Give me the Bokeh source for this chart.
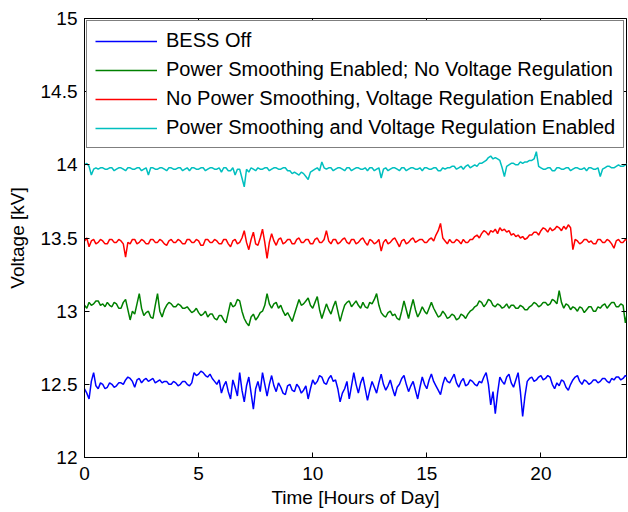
from bokeh.plotting import figure
from bokeh.models import Range1d, Legend, LegendItem, LinearAxis, FixedTicker
from bokeh.embed import file_html
from bokeh.resources import INLINE

# Sampling grid (hours of day, every 0.1 h)
hours = [round(0.1 * i, 1) for i in range(240)]

bess_off = [
    12.47, 12.44, 12.40, 12.52, 12.58, 12.49, 12.47, 12.51, 12.50, 12.47, 12.48, 12.51, 12.50, 12.48, 12.49, 12.51, 12.51, 12.50, 12.53, 12.55,
    12.54, 12.52, 12.48, 12.53, 12.54, 12.51, 12.53, 12.54, 12.52, 12.53, 12.54, 12.51, 12.52, 12.53, 12.51, 12.52, 12.52, 12.50, 12.50, 12.52,
    12.51, 12.49, 12.50, 12.52, 12.52, 12.50, 12.49, 12.51, 12.58, 12.56, 12.57, 12.59, 12.58, 12.56, 12.55, 12.57, 12.54, 12.52, 12.50, 12.53,
    12.44, 12.49, 12.52, 12.45, 12.40, 12.53, 12.48, 12.42, 12.58, 12.46, 12.38, 12.49, 12.55, 12.44, 12.33, 12.47, 12.52, 12.45, 12.58, 12.50,
    12.42, 12.50, 12.56, 12.49, 12.45, 12.51, 12.48, 12.44, 12.43, 12.49, 12.50, 12.46, 12.45, 12.50, 12.48, 12.44, 12.46, 12.49, 12.40, 12.47,
    12.53, 12.50, 12.52, 12.56, 12.55, 12.51, 12.50, 12.54, 12.56, 12.52, 12.53, 12.47, 12.38, 12.44, 12.47, 12.52, 12.40, 12.49, 12.58, 12.50,
    12.44, 12.51, 12.55, 12.47, 12.39, 12.46, 12.52, 12.48, 12.44, 12.51, 12.57, 12.50, 12.46, 12.49, 12.53, 12.47, 12.42, 12.48, 12.50, 12.54,
    12.56, 12.50, 12.45, 12.49, 12.52, 12.46, 12.40, 12.48, 12.55, 12.50, 12.47, 12.53, 12.57, 12.52, 12.49, 12.46, 12.43, 12.50, 12.55, 12.52,
    12.51, 12.54, 12.57, 12.51, 12.48, 12.52, 12.54, 12.49, 12.50, 12.53, 12.52, 12.50, 12.49, 12.52, 12.51, 12.55, 12.58, 12.50, 12.36, 12.45,
    12.30, 12.44, 12.55, 12.52, 12.50, 12.55, 12.57, 12.51, 12.48, 12.53, 12.58, 12.45, 12.28, 12.42, 12.52, 12.54, 12.55, 12.52, 12.53, 12.55,
    12.56, 12.53, 12.54, 12.56, 12.55, 12.50, 12.47, 12.51, 12.49, 12.53, 12.52, 12.48, 12.46, 12.50, 12.53, 12.55, 12.56, 12.52, 12.50, 12.53,
    12.52, 12.50, 12.51, 12.53, 12.53, 12.51, 12.52, 12.54, 12.54, 12.52, 12.51, 12.54, 12.53, 12.55, 12.55, 12.53, 12.54, 12.56, 12.55, 12.54,
]

smoothing_only = [
    13.04, 13.02, 13.06, 13.04, 13.05, 13.07, 13.07, 13.04, 13.05, 13.03, 13.06, 13.04, 13.03, 13.06, 13.05, 13.02, 13.02, 13.06, 13.08, 13.01,
    12.94, 13.00, 12.98, 13.05, 13.12, 13.02, 12.97, 12.99, 13.00, 12.96, 12.95, 13.04, 13.12, 13.00, 12.96, 13.01, 13.04, 13.06, 13.05, 13.03,
    13.03, 13.05, 13.04, 13.02, 13.02, 13.03, 13.01, 12.99, 13.00, 13.02, 12.99, 12.97, 12.98, 13.00, 12.96, 12.98, 12.98, 12.95, 12.94, 12.97,
    12.97, 12.94, 12.92, 12.99, 13.06, 13.03, 13.04, 13.08, 13.07, 13.00, 12.95, 12.92, 12.90, 12.96, 12.98, 12.94, 12.96, 12.99, 13.00, 13.04,
    13.12, 13.05, 13.02, 13.05, 13.06, 13.02, 13.04, 13.00, 12.97, 12.99, 12.96, 12.93, 12.98, 13.03, 13.08, 13.04, 13.05, 13.07, 13.09, 13.04,
    13.02, 13.06, 13.10, 13.01, 12.95, 13.00, 13.05, 13.01, 12.98, 13.03, 13.07, 13.00, 12.93, 12.99, 13.04, 13.06, 13.07, 13.03, 13.05, 13.07,
    13.04, 13.02, 13.06, 13.03, 13.02, 13.06, 13.05, 13.08, 13.12, 13.04, 12.99, 12.97, 12.96, 12.99, 13.00, 12.97, 12.98, 12.95, 12.94, 13.00,
    13.07, 13.01, 12.95, 13.02, 13.08, 13.01, 12.96, 12.99, 13.03, 13.00, 12.98, 13.02, 13.06, 13.02, 12.99, 12.96, 12.97, 13.00, 12.98, 12.95,
    12.96, 12.98, 12.97, 12.94, 12.95, 12.98, 12.97, 12.95, 12.98, 13.00, 13.01, 13.03, 13.04, 13.07, 13.06, 13.03, 13.05, 13.08, 13.07, 13.04,
    13.03, 13.05, 13.04, 13.02, 13.03, 13.05, 13.02, 13.04, 13.04, 13.02, 13.02, 13.04, 13.03, 13.01, 13.01, 13.03, 13.04, 13.06, 13.05, 13.03,
    13.04, 13.06, 13.06, 13.04, 13.05, 13.08, 13.07, 13.05, 13.14, 13.06, 13.02, 13.05, 13.04, 13.01, 13.03, 13.02, 13.00, 13.03, 13.02, 12.99,
    13.01, 13.03, 13.03, 13.00, 13.00, 13.03, 13.02, 13.04, 13.05, 13.02, 13.04, 13.06, 13.06, 13.03, 13.03, 13.05, 13.04, 12.92, 13.00, 13.02,
]

regulation_only = [
    13.48, 13.50, 13.44, 13.48, 13.49, 13.46, 13.47, 13.49, 13.48, 13.46, 13.46, 13.49, 13.49, 13.47, 13.47, 13.49, 13.48, 13.46, 13.37, 13.47,
    13.46, 13.49, 13.49, 13.46, 13.47, 13.49, 13.48, 13.46, 13.46, 13.49, 13.49, 13.47, 13.47, 13.49, 13.48, 13.46, 13.45, 13.48, 13.49, 13.47,
    13.47, 13.49, 13.48, 13.46, 13.46, 13.49, 13.49, 13.47, 13.47, 13.49, 13.48, 13.45, 13.45, 13.49, 13.49, 13.47, 13.47, 13.49, 13.48, 13.46,
    13.46, 13.49, 13.49, 13.46, 13.44, 13.48, 13.49, 13.46, 13.47, 13.50, 13.55, 13.47, 13.42, 13.49, 13.54, 13.46, 13.45, 13.50, 13.56, 13.47,
    13.36, 13.47, 13.53, 13.48, 13.45, 13.49, 13.50, 13.46, 13.47, 13.49, 13.49, 13.46, 13.46, 13.49, 13.50, 13.47, 13.47, 13.49, 13.49, 13.46,
    13.46, 13.49, 13.50, 13.47, 13.47, 13.49, 13.55, 13.48, 13.46, 13.49, 13.49, 13.46, 13.47, 13.49, 13.50, 13.47, 13.46, 13.49, 13.49, 13.46,
    13.47, 13.49, 13.50, 13.47, 13.45, 13.49, 13.48, 13.46, 13.47, 13.49, 13.41, 13.47, 13.49, 13.46, 13.47, 13.49, 13.50, 13.47, 13.44, 13.48,
    13.49, 13.46, 13.47, 13.49, 13.50, 13.47, 13.48, 13.49, 13.49, 13.47, 13.47, 13.49, 13.50, 13.48, 13.52, 13.55, 13.60, 13.50, 13.48, 13.46,
    13.49, 13.47, 13.47, 13.49, 13.48, 13.46, 13.49, 13.47, 13.47, 13.49, 13.49, 13.51, 13.52, 13.50, 13.53, 13.55, 13.54, 13.52, 13.55, 13.54,
    13.56, 13.53, 13.57, 13.55, 13.56, 13.54, 13.55, 13.52, 13.53, 13.51, 13.52, 13.50, 13.51, 13.49, 13.50, 13.52, 13.52, 13.54, 13.54, 13.52,
    13.55, 13.57, 13.56, 13.54, 13.57, 13.55, 13.56, 13.58, 13.57, 13.55, 13.58, 13.56, 13.59, 13.57, 13.42, 13.49, 13.48, 13.46, 13.47, 13.49,
    13.49, 13.47, 13.48, 13.46, 13.46, 13.49, 13.49, 13.47, 13.47, 13.49, 13.48, 13.46, 13.43, 13.48, 13.49, 13.47, 13.47, 13.49, 13.48, 13.47,
]

smoothing_and_regulation = [
    14.00, 14.01, 13.99, 13.93, 13.97, 13.98, 13.97, 13.98, 13.98, 13.97, 13.97, 13.98, 13.98, 13.96, 13.97, 13.98, 13.98, 13.97, 13.96, 13.98,
    13.98, 13.97, 13.97, 13.98, 13.98, 13.96, 13.97, 13.98, 13.93, 13.98, 13.98, 13.97, 13.97, 13.98, 13.98, 13.97, 13.96, 13.98, 13.98, 13.97,
    13.97, 13.98, 13.98, 13.96, 13.97, 13.98, 13.96, 13.98, 13.98, 13.97, 13.97, 13.98, 13.98, 13.96, 13.97, 13.98, 13.98, 13.97, 13.97, 13.98,
    13.95, 13.98, 13.98, 13.96, 13.96, 13.98, 13.93, 13.97, 13.97, 13.91, 13.85, 13.97, 13.95, 13.98, 13.97, 13.96, 13.98, 13.97, 13.97, 13.98,
    13.98, 13.96, 13.97, 13.98, 13.98, 13.97, 13.97, 13.98, 13.98, 13.96, 13.96, 13.94, 13.95, 13.94, 13.93, 13.95, 13.94, 13.92, 13.90, 13.95,
    13.96, 13.97, 13.98, 13.96, 14.02, 13.98, 13.97, 13.98, 13.98, 13.96, 13.97, 13.98, 13.98, 13.97, 13.96, 13.98, 13.98, 13.96, 13.97, 13.98,
    13.98, 13.97, 13.97, 13.98, 13.96, 13.98, 13.98, 13.96, 13.97, 13.98, 13.91, 13.97, 13.98, 13.96, 13.97, 13.98, 13.98, 13.97, 13.96, 13.98,
    13.98, 13.96, 13.97, 13.98, 13.98, 13.97, 13.97, 13.98, 13.96, 13.98, 13.98, 13.97, 13.97, 13.98, 13.98, 13.96, 13.96, 13.98, 13.97, 13.98,
    13.98, 13.99, 13.99, 13.97, 13.98, 13.99, 13.97, 13.99, 14.00, 13.98, 13.99, 14.00, 13.99, 14.01, 14.01, 14.02, 14.03, 14.05, 14.06, 14.04,
    14.05, 14.04, 14.03, 13.98, 13.92, 13.99, 14.00, 14.01, 14.01, 14.00, 14.00, 14.02, 14.01, 14.02, 14.02, 14.03, 14.03, 14.04, 14.09, 13.99,
    13.98, 13.97, 13.97, 13.98, 13.98, 13.96, 13.96, 13.98, 13.98, 13.97, 13.97, 13.98, 13.98, 13.96, 13.97, 13.98, 13.98, 13.97, 13.97, 13.98,
    13.96, 13.98, 13.98, 13.97, 13.97, 13.98, 13.92, 13.97, 13.98, 13.99, 13.99, 13.98, 13.98, 13.99, 14.00, 13.99, 13.99, 14.00, 14.01, 14.00,
]

labels = [
    "BESS Off",
    "Power Smoothing Enabled; No Voltage Regulation",
    "No Power Smoothing, Voltage Regulation Enabled",
    "Power Smoothing and Voltage Regulation Enabled",
]
colors = ["#0000ff", "#008000", "#ff0000", "#00bfbf"]
x_ticks = [0, 5, 10, 15, 20]
y_ticks = [12, 12.5, 13, 13.5, 14, 14.5, 15]

FONT = "Liberation Sans"

p = figure(
    width=628, height=512,
    x_range=Range1d(0, 23.75), y_range=Range1d(12, 15),
    output_backend="svg", toolbar_location=None,
    min_border_left=84, min_border_right=2, min_border_top=18, min_border_bottom=55,
    x_axis_label="Time [Hours of Day]", y_axis_label="Voltage [kV]",
)
p.grid.visible = False
p.outline_line_color = "black"
p.outline_line_width = 1
p.background_fill_color = "white"
p.border_fill_color = "white"

for ax in (p.xaxis[0], p.yaxis[0]):
    ax.major_tick_in = 5
    ax.major_tick_out = 0
    ax.minor_tick_line_color = None
    ax.axis_line_color = "black"
    ax.major_tick_line_color = "black"
    ax.major_label_text_font = FONT
    ax.major_label_text_font_size = "19px"
    ax.major_label_text_color = "black"
    ax.axis_label_text_font = FONT
    ax.axis_label_text_font_size = "19px"
    ax.axis_label_text_font_style = "normal"
    ax.axis_label_text_color = "black"

p.xaxis[0].ticker = FixedTicker(ticks=x_ticks)
p.yaxis[0].ticker = FixedTicker(ticks=y_ticks)
p.xaxis[0].major_label_standoff = 9
p.xaxis[0].axis_label_standoff = 4
p.yaxis[0].major_label_standoff = 7
p.yaxis[0].axis_label_standoff = 10

top_ax = LinearAxis(ticker=FixedTicker(ticks=x_ticks),
                    major_label_overrides={t: "" for t in x_ticks})
right_ax = LinearAxis(ticker=FixedTicker(ticks=y_ticks),
                      major_label_overrides={t: "" for t in y_ticks})
for ax in (top_ax, right_ax):
    ax.major_tick_in = 5
    ax.major_tick_out = 0
    ax.minor_tick_line_color = None
    ax.axis_line_color = None
    ax.major_tick_line_color = "black"
    ax.major_label_text_color = None
    ax.major_label_text_font_size = "1px"
    ax.major_label_standoff = 0
p.add_layout(top_ax, "above")
p.add_layout(right_ax, "right")

series = [bess_off, smoothing_only, regulation_only, smoothing_and_regulation]
renderers = []
for vals, c in zip(series, colors):
    r = p.line(hours, vals, line_color=c, line_width=1.5)
    renderers.append(r)

legend = Legend(
    items=[LegendItem(label=l, renderers=[r]) for l, r in zip(labels, renderers)],
    location="top_left",
    margin=2,
    padding=8,
    spacing=6,
    label_height=20,
    glyph_width=62,
    label_standoff=9,
    label_text_font=FONT,
    label_text_font_size="20px",
    label_text_color="black",
    border_line_color="black",
    border_line_width=1,
    background_fill_color="white",
    background_fill_alpha=1,
)
p.add_layout(legend, "center")

open("out.html", "w").write(file_html(p, INLINE))
